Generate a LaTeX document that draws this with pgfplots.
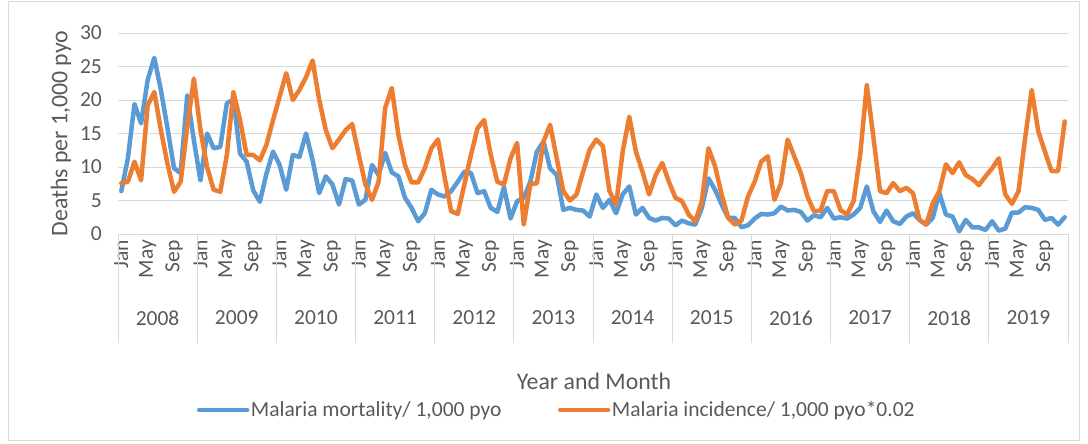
\documentclass[border=0pt]{standalone}
\usepackage{fontspec}
\setmainfont{Carlito}
\usepackage{pgfplots}
\usepackage{pgfplotstable}
\pgfplotsset{compat=1.18}
\definecolor{mblue}{HTML}{5B9BD5}
\definecolor{morange}{HTML}{ED7D31}
\definecolor{gridc}{HTML}{D9D9D9}
\definecolor{txt}{HTML}{595959}
\pgfplotstableread{
i mort inc
0 6.4 7.6
1 11.3 7.8
2 19.4 10.8
3 16.5 8.0
4 23.0 19.2
5 26.3 21.2
6 21.5 15.5
7 15.8 10.5
8 9.8 6.3
9 9.1 7.8
10 20.7 16.0
11 14.0 23.2
12 8.0 15.5
13 15.0 10.0
14 12.8 6.6
15 13.0 6.3
16 19.5 11.8
17 20.1 21.2
18 12.0 17.0
19 10.8 11.8
20 6.5 11.8
21 4.8 11.0
22 9.0 13.3
23 12.3 17.0
24 10.3 20.5
25 6.6 24.0
26 11.8 20.0
27 11.5 21.5
28 15.0 23.4
29 11.0 25.9
30 6.1 20.0
31 8.6 15.5
32 7.4 12.8
33 4.4 14.1
34 8.2 15.5
35 8.0 16.4
36 4.4 11.8
37 5.1 7.4
38 10.3 5.1
39 8.8 7.8
40 12.1 18.8
41 9.2 21.8
42 8.6 14.8
43 5.4 10.3
44 3.9 7.7
45 1.9 7.7
46 3.1 9.8
47 6.6 12.8
48 5.9 14.1
49 5.6 8.5
50 6.4 3.4
51 7.8 3.0
52 9.3 7.4
53 9.1 11.8
54 6.1 15.8
55 6.4 17.0
56 3.9 11.8
57 3.3 7.8
58 7.0 7.4
59 2.3 11.3
60 4.9 13.6
61 5.4 1.4
62 7.8 7.4
63 12.3 7.6
64 13.8 13.8
65 9.8 16.3
66 8.8 11.3
67 3.6 6.4
68 3.9 5.0
69 3.6 5.9
70 3.5 9.3
71 2.6 12.6
72 5.9 14.1
73 3.9 13.1
74 5.1 6.4
75 3.1 4.4
76 5.9 12.3
77 7.1 17.5
78 2.9 12.3
79 3.9 9.3
80 2.4 5.9
81 2.0 8.8
82 2.4 10.6
83 2.3 7.8
84 1.3 5.4
85 2.0 4.9
86 1.6 2.9
87 1.4 1.9
88 3.9 4.9
89 8.3 12.8
90 6.6 10.1
91 4.4 5.9
92 2.4 2.4
93 2.4 1.4
94 1.0 2.0
95 1.3 5.6
96 2.3 7.8
97 3.0 10.8
98 2.9 11.6
99 3.1 5.1
100 4.1 7.6
101 3.5 14.1
102 3.6 11.6
103 3.3 9.1
104 2.0 5.6
105 2.8 3.4
106 2.5 3.5
107 3.9 6.4
108 2.3 6.4
109 2.5 3.6
110 2.3 2.9
111 2.9 4.9
112 3.9 11.8
113 7.1 22.2
114 3.4 14.5
115 1.8 6.4
116 3.5 6.1
117 1.9 7.6
118 1.5 6.4
119 2.6 6.9
120 3.1 6.1
121 2.1 2.1
122 1.4 1.4
123 2.4 4.6
124 6.1 6.4
125 2.9 10.4
126 2.6 9.1
127 0.4 10.7
128 2.1 8.8
129 1.0 8.2
130 1.0 7.3
131 0.6 8.6
132 1.9 9.8
133 0.5 11.3
134 0.8 5.9
135 3.2 4.5
136 3.2 6.4
137 4.0 14.3
138 3.9 21.5
139 3.6 15.3
140 2.1 12.3
141 2.4 9.4
142 1.4 9.4
143 2.5 16.8
}\data
\newcommand{\tfont}{\fontsize{21.5}{24}\selectfont}
\newcommand{\lfont}{\fontsize{23.8}{26}\selectfont}
\begin{document}
\begin{tikzpicture}[x=1pt,y=1pt]
\path[use as bounding box] (0,0) rectangle (1088,-444);
\draw[gridc, line width=1pt] (8.5,-1.5) rectangle (1079.5,-440.5);
\begin{axis}[
  at={(118pt,-234pt)}, anchor=south west,
  scale only axis, width=950pt, height=201pt,
  xmin=-0.5, xmax=143.5, ymin=0, ymax=30,
  ytick={0,5,...,30},
  xtick={0,4,...,140},
  xticklabels={Jan,May,Sep,Jan,May,Sep,Jan,May,Sep,Jan,May,Sep,Jan,May,Sep,Jan,May,Sep,Jan,May,Sep,Jan,May,Sep,Jan,May,Sep,Jan,May,Sep,Jan,May,Sep,Jan,May,Sep},
  major x tick style={draw=none},
  ytick style={draw=none},
  tick pos=left,
  axis x line*=bottom, axis y line*=left,
  x axis line style={gridc, line width=1pt, -},
  y axis line style={draw=none},
  ymajorgrids, grid style={gridc, line width=1pt},
  /pgf/number format/assume math mode=true,
  tick label style={font=\tfont, text=txt},
  yticklabel style={inner sep=0pt, anchor=east, xshift=-16pt},
  xticklabel style={rotate=90, anchor=east, inner xsep=6pt, inner ysep=0pt},
  xlabel={Year and Month},
  xlabel style={at={(axis description cs:0.501,-0.731)}, anchor=center, font=\lfont, text=txt},
  ylabel={Deaths per 1,000 pyo},
  ylabel style={at={(axis description cs:-0.06,0.5)}, anchor=center, font=\lfont, text=txt},
  clip=false,
  legend columns=2,
  legend style={at={(axis description cs:0.4616,-0.8756)}, anchor=center, draw=none, fill=none,
    font=\tfont, text=txt, nodes={inner sep=1.5pt},
    /tikz/every even column/.append style={column sep=55pt}},
  legend cell align=left,
  legend image code/.code={\draw[#1, line width=4.5pt, line cap=round] (0pt,0pt) -- (48pt,0pt);},
]
\addplot[mblue, line width=4.5pt, line join=round, line cap=round] table[x=i, y=mort] {\data};
\addlegendentry{Malaria mortality/ 1,000 pyo}
\addplot[morange, line width=4.5pt, line join=round, line cap=round] table[x=i, y=inc] {\data};
\addlegendentry{Malaria incidence/ 1,000 pyo*0.02}
\draw[gridc, line width=1pt] (axis cs:-0.5,0) -- ++(0pt,-109pt);
\draw[gridc, line width=1pt] (axis cs:11.5,0) -- ++(0pt,-109pt);
\draw[gridc, line width=1pt] (axis cs:23.5,0) -- ++(0pt,-109pt);
\draw[gridc, line width=1pt] (axis cs:35.5,0) -- ++(0pt,-109pt);
\draw[gridc, line width=1pt] (axis cs:47.5,0) -- ++(0pt,-109pt);
\draw[gridc, line width=1pt] (axis cs:59.5,0) -- ++(0pt,-109pt);
\draw[gridc, line width=1pt] (axis cs:71.5,0) -- ++(0pt,-109pt);
\draw[gridc, line width=1pt] (axis cs:83.5,0) -- ++(0pt,-109pt);
\draw[gridc, line width=1pt] (axis cs:95.5,0) -- ++(0pt,-109pt);
\draw[gridc, line width=1pt] (axis cs:107.5,0) -- ++(0pt,-109pt);
\draw[gridc, line width=1pt] (axis cs:119.5,0) -- ++(0pt,-109pt);
\draw[gridc, line width=1pt] (axis cs:131.5,0) -- ++(0pt,-109pt);
\draw[gridc, line width=1pt] (axis cs:143.5,0) -- ++(0pt,-109pt);
\node[font=\tfont, text=txt] at (axis cs:5.5,0) [yshift=-84pt] {2008};
\node[font=\tfont, text=txt] at (axis cs:17.5,0) [yshift=-84pt] {2009};
\node[font=\tfont, text=txt] at (axis cs:29.5,0) [yshift=-84pt] {2010};
\node[font=\tfont, text=txt] at (axis cs:41.5,0) [yshift=-84pt] {2011};
\node[font=\tfont, text=txt] at (axis cs:53.5,0) [yshift=-84pt] {2012};
\node[font=\tfont, text=txt] at (axis cs:65.5,0) [yshift=-84pt] {2013};
\node[font=\tfont, text=txt] at (axis cs:77.5,0) [yshift=-84pt] {2014};
\node[font=\tfont, text=txt] at (axis cs:89.5,0) [yshift=-84pt] {2015};
\node[font=\tfont, text=txt] at (axis cs:101.5,0) [yshift=-84pt] {2016};
\node[font=\tfont, text=txt] at (axis cs:113.5,0) [yshift=-84pt] {2017};
\node[font=\tfont, text=txt] at (axis cs:125.5,0) [yshift=-84pt] {2018};
\node[font=\tfont, text=txt] at (axis cs:137.5,0) [yshift=-84pt] {2019};
\end{axis}
\end{tikzpicture}
\end{document}
